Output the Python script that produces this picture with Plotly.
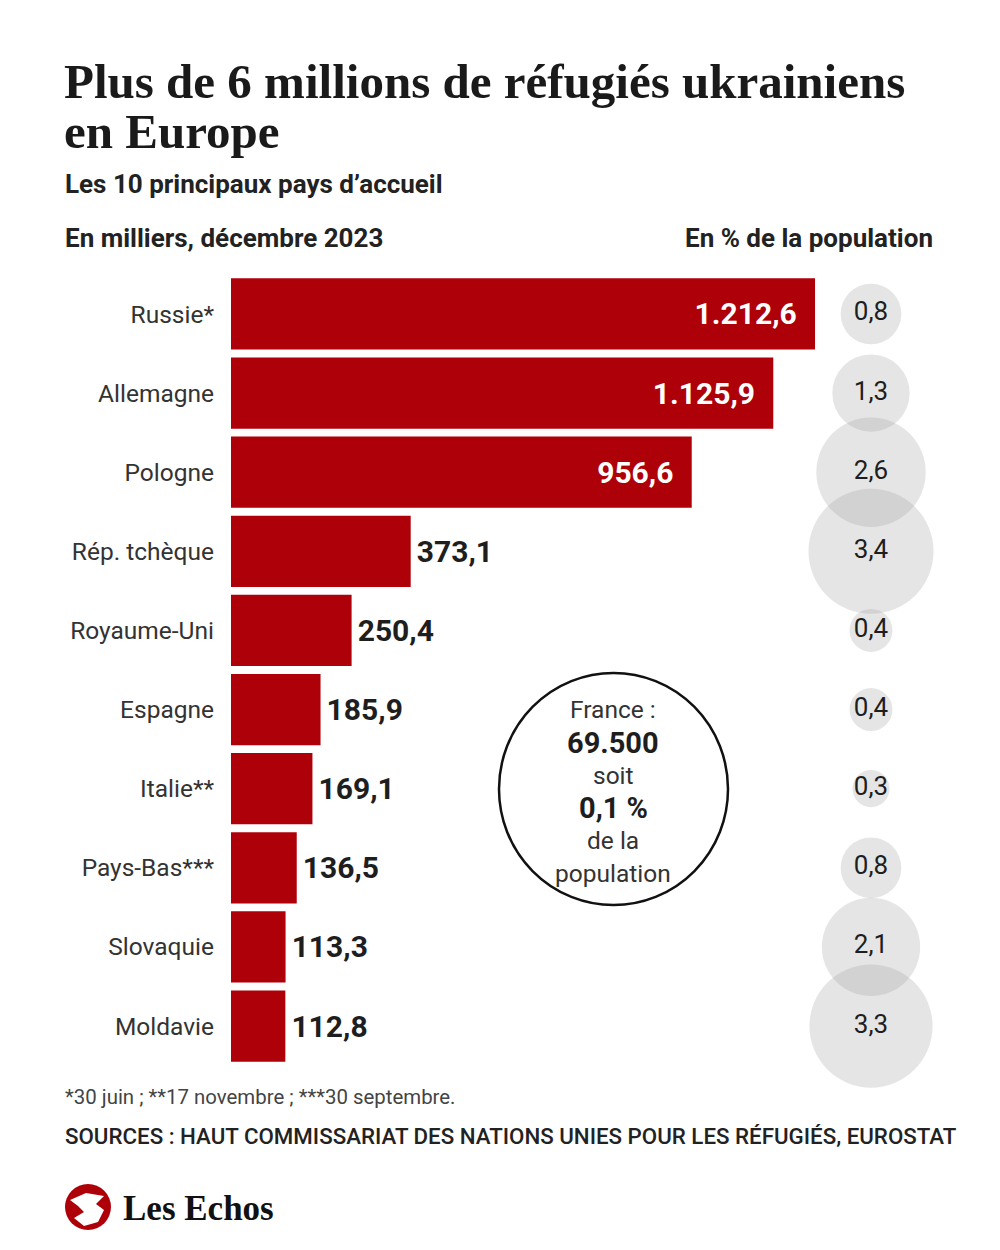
import plotly.graph_objects as go

countries = ["Russie*", "Allemagne", "Pologne", "Rép. tchèque", "Royaume-Uni",
             "Espagne", "Italie**", "Pays-Bas***", "Slovaquie", "Moldavie"]
refugees_k = [1212.6, 1125.9, 956.6, 373.1, 250.4, 185.9, 169.1, 136.5, 113.3, 112.8]
pct_population = [0.8, 1.3, 2.6, 3.4, 0.4, 0.4, 0.3, 0.8, 2.1, 3.3]
label_inside = [True, True, True, False, False, False, False, False, False, False]

france_lines = ["France :", "69.500", "soit", "0,1 %", "de la", "population"]
france_bold = [False, True, False, True, False, False]

W, H = 1000, 1250
RED = "#ae0008"
SANS = "Roboto, 'Noto Sans', Arial, sans-serif"
SERIF = "'Liberation Serif', 'DejaVu Serif', serif"


def px(x):
    return x / W


def py(y):
    return 1 - y / H


fig = go.Figure()

fig.add_trace(go.Bar(
    y=countries, x=refugees_k, orientation="h",
    marker=dict(color=RED, line=dict(width=0)),
    texttemplate=["%{x:,.1f}\u2002" if f else "\u200a%{x:,.1f}" for f in label_inside],
    textposition=["inside" if f else "outside" for f in label_inside],
    insidetextanchor="end",
    insidetextfont=dict(family=SANS, size=30, color="white", weight="bold"),
    outsidetextfont=dict(family=SANS, size=30, color="#1e1e1e", weight="bold"),
    constraintext="none", cliponaxis=False,
    hoverinfo="skip", showlegend=False,
))

# bubbles: area proportional to share of population
fig.add_trace(go.Scatter(
    y=countries, x=[0.5] * len(countries), xaxis="x2",
    mode="markers+text",
    marker=dict(size=pct_population, sizemode="area", sizeref=1 / 2300,
                color="rgba(162,162,162,0.4)", line=dict(width=0)),
    text=[f"{v:.1f}".replace(".", ",") for v in pct_population],
    textposition="middle center",
    textfont=dict(family=SANS, size=26, color="#1e1e1e"),
    cliponaxis=False, hoverinfo="skip", showlegend=False,
))

fig.update_layout(
    width=W, height=H,
    margin=dict(l=0, r=0, t=0, b=0),
    paper_bgcolor="white", plot_bgcolor="white",
    separators=",.",
    bargap=0.1,
    xaxis=dict(domain=[px(231), px(939)], range=[0, 1470], visible=False, fixedrange=True),
    xaxis2=dict(domain=[px(821), px(921)], range=[0, 1], visible=False, anchor="y"),
    yaxis=dict(domain=[py(1065.6), py(274.4)], range=[9.5, -0.5],
               showgrid=False, zeroline=False, showline=False, ticks="",
               ticklabelstandoff=16,
               tickfont=dict(family=SANS, size=24.5, color="#333333")),
)

# France circle
fig.add_shape(type="circle", xref="paper", yref="paper",
              x0=px(499), x1=px(728), y0=py(905), y1=py(673),
              line=dict(color="#111111", width=2.5), fillcolor="rgba(0,0,0,0)")
france_y = [710, 743, 775, 808, 841, 873]
for txt, b, yy in zip(france_lines, france_bold, france_y):
    fig.add_annotation(text=txt, x=px(613), y=py(yy), xref="paper", yref="paper",
                       xanchor="center", yanchor="middle", showarrow=False,
                       font=dict(family=SANS, size=29 if b else 24.5,
                                 color="#1e1e1e" if b else "#333333",
                                 weight="bold" if b else "normal"))

# titles and texts
texts = [
    ("Plus de 6 millions de réfugiés ukrainiens", 62, 82, "left", dict(family=SERIF, size=49, color="#1a1a1a", weight="bold")),
    ("en Europe", 62, 131, "left", dict(family=SERIF, size=49, color="#1a1a1a", weight="bold")),
    ("Les 10 principaux pays d’accueil", 63, 184, "left", dict(family=SANS, size=26, color="#222222", weight="bold")),
    ("En milliers, décembre 2023", 63, 238, "left", dict(family=SANS, size=26, color="#222222", weight="bold")),
    ("En % de la population", 935, 238, "right", dict(family=SANS, size=26, color="#222222", weight="bold")),
    ("*30 juin ; **17 novembre ; ***30 septembre.", 63, 1097, "left", dict(family=SANS, size=20.4, color="#444444")),
    ("SOURCES : HAUT COMMISSARIAT DES NATIONS UNIES POUR LES RÉFUGIÉS, EUROSTAT", 63, 1136, "left", dict(family=SANS, size=22.3, color="#222222", weight=500)),
    ("Les Echos", 121, 1208, "left", dict(family=SERIF, size=35, color="#111111", weight="bold")),
]
for txt, x, y, anchor, font in texts:
    fig.add_annotation(text=txt, x=px(x), y=py(y), xref="paper", yref="paper",
                       xanchor=anchor, yanchor="middle", showarrow=False, font=font)

# logo roundel
fig.add_shape(type="circle", xref="paper", yref="paper",
              x0=px(65), x1=px(111), y0=py(1230), y1=py(1184),
              fillcolor=RED, line=dict(width=0))
wing = [(70, 1200), (86, 1193), (104, 1196), (96, 1204), (104, 1210),
        (98, 1222), (84, 1226), (74, 1218), (84, 1212), (78, 1206)]
path = "M " + " L ".join(f"{px(a)},{py(b)}" for a, b in wing) + " Z"
fig.add_shape(type="path", xref="paper", yref="paper", path=path,
              fillcolor="white", line=dict(width=0))

fig.write_html("out.html", config={"displayModeBar": False},
               post_script="document.body.style.margin='0';")
